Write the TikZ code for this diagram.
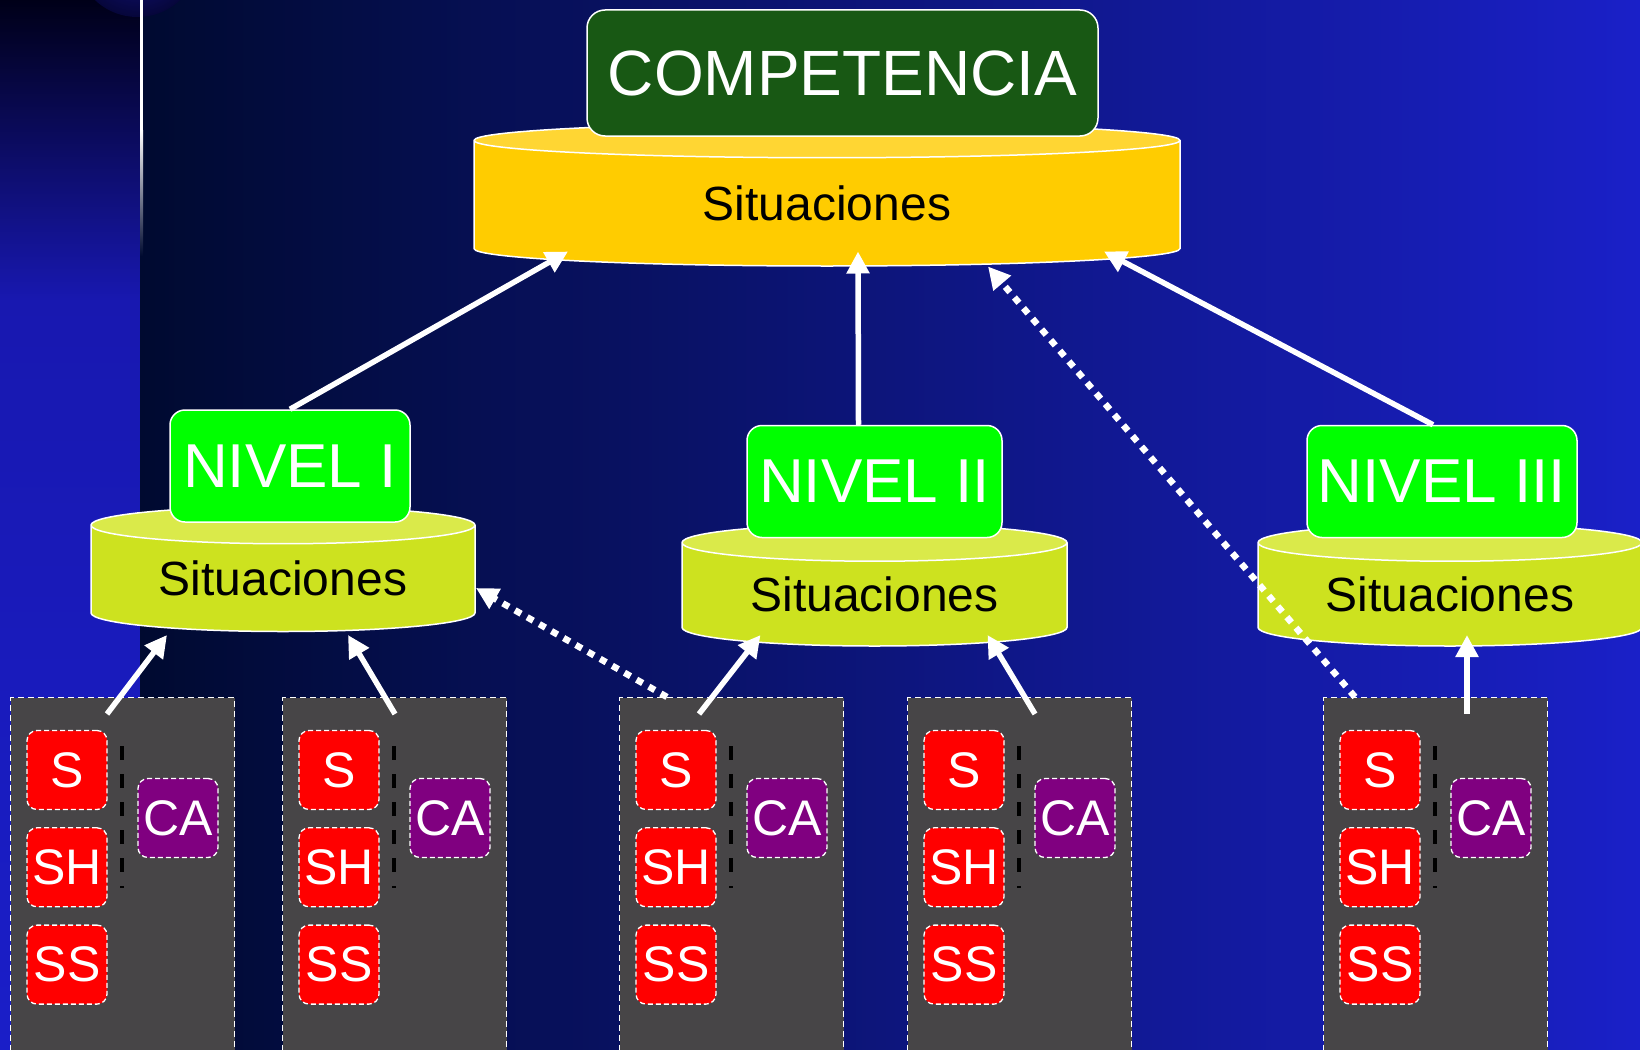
\documentclass[tikz,border=0pt]{standalone}
\usepackage{fontspec}
\setmainfont{Liberation Sans}
\usetikzlibrary{arrows.meta,shapes.geometric,positioning,calc}

\definecolor{stripTop}{HTML}{000018}
\definecolor{stripMid}{HTML}{1818B0}
\definecolor{stripLow}{HTML}{1A1EC8}
\definecolor{bgLeft}{HTML}{000A30}
\definecolor{bgMid}{HTML}{0A0D62}
\definecolor{bgRight}{HTML}{1A20C8}
\definecolor{blobIn}{HTML}{141488}
\definecolor{blobOut}{HTML}{06063A}
\definecolor{compGreen}{HTML}{185814}
\definecolor{levelGreen}{HTML}{00FF00}
\definecolor{goldBody}{HTML}{FFCC00}
\definecolor{goldEnd}{HTML}{FFD633}
\definecolor{limeBody}{HTML}{CDE21F}
\definecolor{limeEnd}{HTML}{DAEA4A}
\definecolor{panelGray}{HTML}{474547}
\definecolor{caPurple}{HTML}{800080}

\begin{document}
\begin{tikzpicture}[x=1pt,y=-1pt]

	\tikzstyle{compbox}=[rectangle,rounded corners=18pt,fill=compGreen,draw=white,line width=1.5pt,
		minimum width=511pt,minimum height=126pt,inner sep=0pt,
		text=white,font=\fontsize{64pt}{64pt}\selectfont]
	\tikzstyle{levelbox}=[rectangle,rounded corners=15pt,fill=levelGreen,draw=white,line width=1.5pt,
		minimum height=112pt,inner sep=0pt,
		text=white,font=\fontsize{62pt}{62pt}\selectfont]
	\tikzstyle{situ}=[cylinder,shape border rotate=90,aspect=0.15,draw=white,line width=1.5pt,
		cylinder uses custom fill,cylinder body fill=limeBody,cylinder end fill=limeEnd,
		inner sep=0pt,anchor=shape center,font=\fontsize{48pt}{48pt}\selectfont]
	\tikzstyle{panel}=[rectangle,fill=panelGray,draw=white,line width=1.3pt,
		dash pattern=on 6pt off 4pt,minimum width=224pt,minimum height=365pt]
	\tikzstyle{redtag}=[rectangle,rounded corners=10pt,fill=red,draw=white,line width=1.3pt,
		dash pattern=on 5pt off 3pt,minimum width=80pt,minimum height=79pt,inner sep=0pt,
		text=white,font=\fontsize{50pt}{50pt}\selectfont]
	\tikzstyle{catag}=[redtag,fill=caPurple]
	\tikzstyle{splitline}=[black,line width=4pt,dash pattern=on 14pt off 14pt]
	\tikzstyle{arrow}=[-{Triangle[length=22pt,width=22pt]},white,line width=5.5pt]
	\tikzstyle{dotarrow}=[arrow,line width=6.5pt,dash pattern=on 7pt off 7pt]

	\useasboundingbox (0,0) rectangle (1640,1049);
	\clip (0,0) rectangle (1640,1049);

	% background
	\shade[top color=stripTop,bottom color=stripMid] (0,0) rectangle (140,300);
	\shade[top color=stripMid,bottom color=stripLow] (0,300) rectangle (140,1049);
	\shade[left color=bgLeft,middle color=bgMid,right color=bgRight] (140,0) rectangle (1640,1049);
	\shade[inner color=blobIn,outer color=blobOut] (137.5,-45) circle (62pt);
	\fill[white] (140,0) rectangle (143,130);
	\shade[top color=white,bottom color=bgLeft] (140,130) rectangle (143,256);

	% situations
	\node[situ,cylinder body fill=goldBody,cylinder end fill=goldEnd,
		minimum width=706pt,minimum height=143pt,aspect=0.14] (sitC) at (827,194.5) {Situaciones};
	\node[situ,minimum width=384pt,minimum height=125pt] (sitI) at (283,569) {Situaciones};
	\node[situ,minimum width=385pt,minimum height=122pt] (sitII) at (874.5,585) {Situaciones};
	\node[situ,minimum width=384pt,minimum height=122pt] (sitIII) at (1450,585) {Situaciones};

	\node[compbox] (comp) at (842.5,73) {COMPETENCIA};
	\node[levelbox,minimum width=240pt] (nivI) at (290,466) {NIVEL I};
	\node[levelbox,minimum width=255pt] (nivII) at (874.5,481.5) {NIVEL II};
	\node[levelbox,minimum width=270pt] (nivIII) at (1442,481.5) {NIVEL III};

	% panels
	\foreach \i/\gx in {1/10,2/282,3/619,4/907,5/1323}{
		\node[panel,anchor=north west] (g\i) at (\gx,697) {};
		\node[redtag] (s\i) at ($(g\i.north west)+(57,73)$) {S};
		\node[redtag,below=17pt of s\i] (sh\i) {SH};
		\node[redtag,below=17pt of sh\i] (ss\i) {SS};
		\node[catag] (ca\i) at ($(g\i.north west)+(168,121)$) {CA};
		\draw[splitline] ($(g\i.north west)+(112,49)$) -- ++(0,142);
	}

	\draw[arrow] (nivI.north) -- ($(sitC.shape center)+(-259,57)$);
	\draw[arrow] ($(nivII.north)+(-16,0)$) -- ($(sitC.shape center)+(31,57)$);
	\draw[arrow] ($(nivIII.north)+(-9,0)$) -- ($(sitC.shape center)+(277,57)$);
	\draw[dotarrow] ($(g5.north west)+(32,0)$) -- ($(sitC.shape center)+(161,72)$);
	\draw[dotarrow] ($(g3.north west)+(48,0)$) -- ($(sitI.shape center)+(193,19)$);
	\draw[arrow] ($(g1.north west)+(97,17)$) -- ($(sitI.shape center)+(-116,66)$);
	\draw[arrow] ($(g2.north west)+(113,17)$) -- ($(sitI.shape center)+(65,66)$);
	\draw[arrow] ($(g3.north west)+(80,17)$) -- ($(sitII.shape center)+(-114,50)$);
	\draw[arrow] ($(g4.north west)+(128,17)$) -- ($(sitII.shape center)+(113,50)$);
	\draw[arrow] ($(g5.north west)+(144,17)$) -- ($(sitIII.shape center)+(17,50)$);

\end{tikzpicture}
\end{document}
